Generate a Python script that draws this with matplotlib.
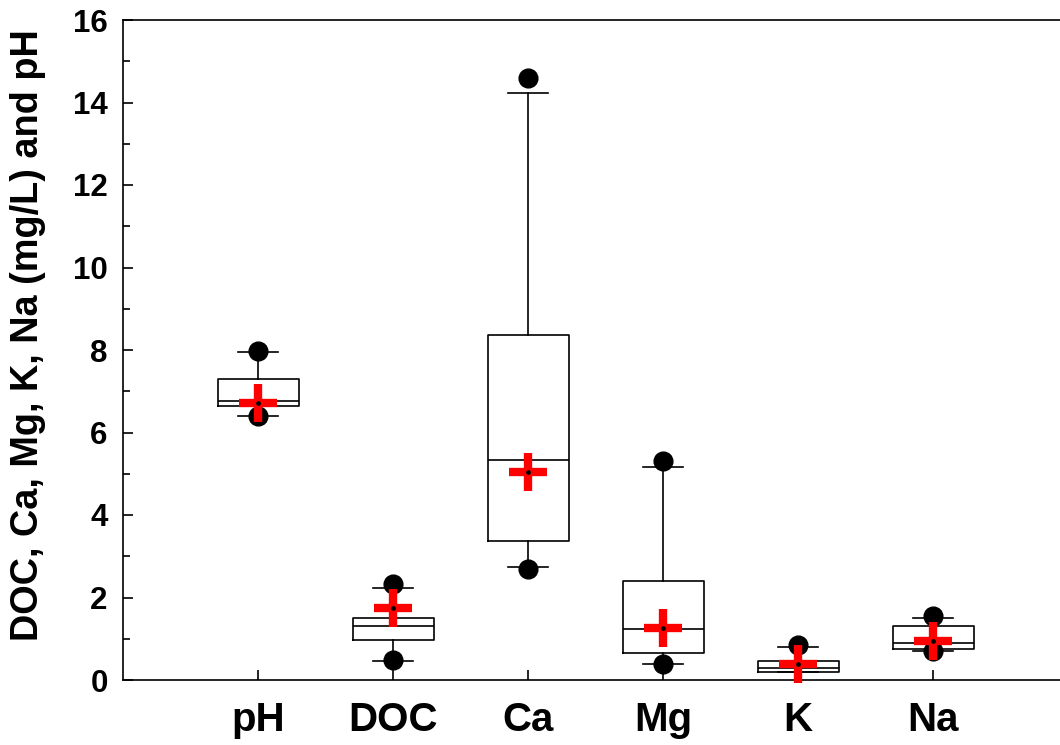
import numpy as np
import matplotlib
matplotlib.use("Agg")
import matplotlib.pyplot as plt
from matplotlib.ticker import MultipleLocator

labels = ['pH', 'DOC', 'Ca', 'Mg', 'K', 'Na']
q1 = [6.64, 0.97, 3.36, 0.66, 0.19, 0.75]
med = [6.77, 1.30, 5.33, 1.23, 0.28, 0.90]
q3 = [7.30, 1.50, 8.36, 2.41, 0.47, 1.32]
whislo = [6.41, 0.47, 2.74, 0.40, 0.19, 0.71]
whishi = [7.95, 2.23, 14.22, 5.16, 0.80, 1.51]
out_lo = [6.40, 0.48, 2.68, 0.40, np.nan, 0.70]
out_hi = [7.98, 2.33, 14.60, 5.32, 0.85, 1.54]
means = [6.72, 1.74, 5.04, 1.27, 0.40, 0.94]

plt.rcParams['font.family'] = ['Liberation Sans', 'DejaVu Sans']
plt.rcParams['font.weight'] = 'bold'

fig = plt.figure(figsize=(10.6, 7.45), dpi=100)
ax = fig.add_axes([123/1060, 1-680/745, 1-123/1060, 660/745])

pos = np.arange(1, len(labels)+1)
stats = []
for i, lab in enumerate(labels):
    stats.append(dict(label=lab, q1=q1[i], med=med[i], q3=q3[i],
                      whislo=whislo[i], whishi=whishi[i], fliers=[]))

lw = 1.2
ax.bxp(stats, positions=pos, widths=0.6, showfliers=False, patch_artist=False,
       boxprops=dict(color='black', linewidth=lw),
       medianprops=dict(color='black', linewidth=lw),
       whiskerprops=dict(color='black', linewidth=lw),
       capprops=dict(color='black', linewidth=lw),
       capwidths=0.29, manage_ticks=False)

ax.plot(pos, out_hi, 'o', color='black', markersize=13.5, zorder=3, clip_on=False)
ax.plot(pos, out_lo, 'o', color='black', markersize=13.5, zorder=3, clip_on=False)
ax.plot(pos, means, '+', color='red', markersize=28, markeredgewidth=6,
        zorder=4, clip_on=False)
ax.plot(pos, means, 'o', color='black', markersize=2.4, zorder=5, clip_on=False)

ax.set_xlim(0, 937/135)
ax.set_ylim(0, 16)
ax.set_xticks(pos)
ax.set_xticklabels(labels, fontsize=29, fontweight='bold')
ax.yaxis.set_major_locator(MultipleLocator(2))
ax.yaxis.set_minor_locator(MultipleLocator(1))
ax.tick_params(axis='y', which='major', direction='in', length=7, width=1.2,
               labelsize=22.5, pad=11)
ax.tick_params(axis='y', which='minor', direction='in', length=5, width=1.2)
ax.tick_params(axis='x', which='major', direction='in', length=7, width=1.2, pad=15)
for lab in ax.get_yticklabels():
    lab.set_fontweight('bold')

ax.spines['right'].set_visible(False)
for s in ['left', 'bottom', 'top']:
    ax.spines[s].set_linewidth(1.2)

ax.set_ylabel('DOC, Ca, Mg, K, Na (mg/L) and pH', fontsize=27.3, fontweight='bold')
ax.yaxis.set_label_coords(-77/937, 0.523)

fig.savefig('out.png', dpi=100)
